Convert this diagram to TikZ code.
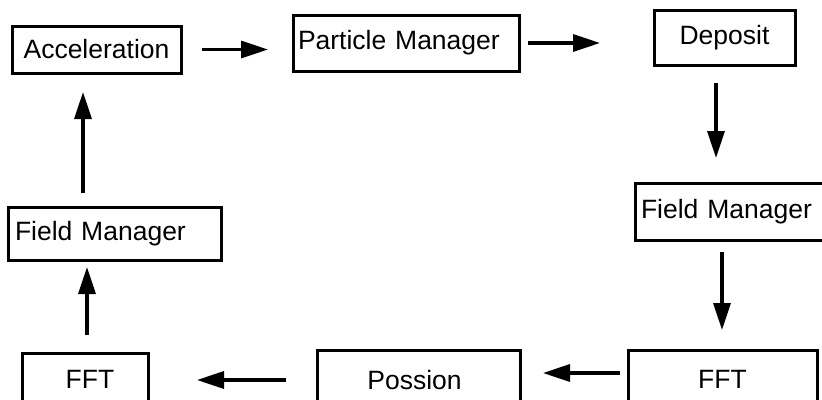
\documentclass[tikz,border=0pt]{standalone}
\usepackage{fontspec}
\setmainfont{Liberation Sans}
\usetikzlibrary{arrows.meta}
\begin{document}
\begin{tikzpicture}[x=1pt,y=-1pt,
  box/.style={draw,line width=3pt,inner sep=0pt,outer sep=0pt,font=\fontsize{26.5}{30}\selectfont},
  flow/.style={line width=3.2pt,-{Triangle[length=27pt,width=17pt]}}]
\useasboundingbox (0,0) rectangle (822,399);
\clip (0,0) rectangle (822,399);
\node[box,minimum width=169pt,minimum height=47pt] (acc) at (96.5,49.5) {\raisebox{-3pt}{Acceleration}};
\node[box,minimum width=226pt,minimum height=56pt,text width=214pt,align=left] (pm) at (406,43) {\hspace*{-1pt}Particle Manager};
\node[box,minimum width=141pt,minimum height=55pt] (dep) at (724.5,37.5) {Deposit};
\node[box,minimum width=195pt,minimum height=57pt,text width=183pt,align=left] (rfm) at (732.5,211.5) {\hspace*{0pt}Field Manager};
\node[box,minimum width=189pt,minimum height=58pt] (rfft) at (722.5,379) {FFT};
\node[box,minimum width=203pt,minimum height=60pt] (pois) at (418.5,380) {\hspace*{-8pt}Possion};
\node[box,minimum width=126pt,minimum height=52pt] (lfft) at (85,379) {\hspace*{10pt}FFT};
\node[box,minimum width=213pt,minimum height=53pt,text width=199pt,align=left] (lfm) at (114.5,233.5) {Field Manager};
\draw[flow,shorten <=21pt,shorten >=25pt] (acc.east) -- (acc.east -| pm.west);
\draw[flow,shorten <=9pt,shorten >=54pt] (pm.east) -- (pm.east -| dep.west);
\draw[flow,shorten <=18pt,shorten >=25pt] ([xshift=-8.5pt]dep.south) -- ([xshift=-8.5pt]dep.south |- rfm.north);
\draw[flow,shorten <=12pt,shorten >=20pt] ([xshift=-10.5pt]rfm.south) -- ([xshift=-10.5pt]rfm.south |- rfft.north);
\draw[flow,shorten <=8pt,shorten >=23pt] ([yshift=6pt]rfft.west) -- ([yshift=6pt]rfft.west -| pois.east);
\draw[flow,shorten <=31pt,shorten >=49pt] (pois.west) -- (pois.west -| lfft.east);
\draw[flow,shorten <=18pt,shorten >=7pt] ([xshift=2pt]lfft.north) -- ([xshift=2pt]lfft.north |- lfm.south);
\draw[flow,shorten <=14pt,shorten >=19pt] ([xshift=-31.5pt]lfm.north) -- ([xshift=-31.5pt]lfm.north |- acc.south);
\end{tikzpicture}
\end{document}
